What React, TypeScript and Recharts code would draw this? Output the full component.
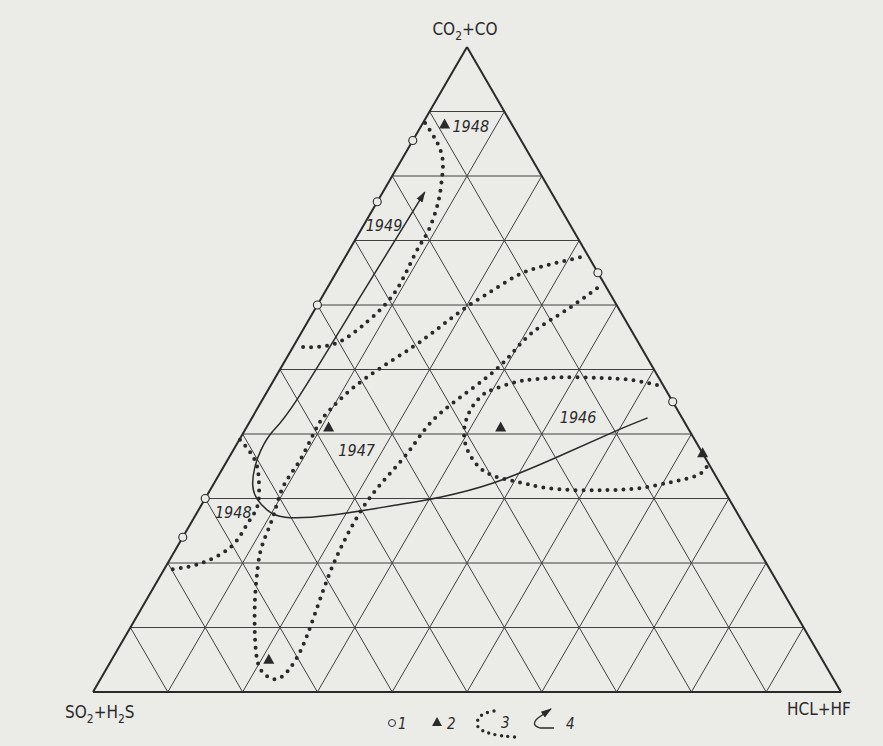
import { ComposedChart, XAxis, YAxis, Line, Scatter, ReferenceLine } from "recharts";

// every composition is in percent: [CO2+CO, SO2+H2S, HCl+HF]
type Comp = [number, number, number];

const GRID_STEPS = [10, 20, 30, 40, 50, 60, 70, 80, 90];

const VERTICES: Comp[] = [
  [100, 0, 0],
  [0, 100, 0],
  [0, 0, 100],
];
const VERTEX_LABELS = ["CO2+CO", "SO2+H2S", "HCL+HF"];

// 1 - open circles
const OPEN_CIRCLES: Comp[] = [
  [85.5, 14.5, 0],
  [76, 24, 0],
  [60, 40, 0],
  [30, 70, 0],
  [24, 76, 0],
  [65, 0, 35],
  [45, 0, 55],
];

// 2 - triangles
const TRIANGLES: Comp[] = [
  [88, 9, 3],
  [41, 48, 11],
  [41, 25, 34],
  [37, 0, 63],
  [5, 74, 21],
];

// 3 - dotted fields
const FIELD_1948_TOP: Comp[] = [
  [88.2, 11.5, 0.3], [85.1, 11.4, 3.5], [82.5, 12.0, 5.5], [80.2, 13.2, 6.6],
  [77.4, 14.9, 7.7], [74.7, 16.8, 8.5], [71.2, 19.7, 9.1], [67.8, 23.1, 9.1],
  [62.3, 28.3, 9.4], [58.1, 33.6, 8.3], [55.7, 37.3, 7.0], [54.1, 40.4, 5.5],
  [53.5, 43.3, 3.2], [53.5, 45.9, 0.6],
];

const FIELD_1947: Comp[] = [
  [67.4, 1.2, 31.4], [66.1, 6.5, 27.4], [64.8, 10.5, 24.7], [62.5, 15.0, 22.5],
  [59.7, 20.2, 20.1], [56.6, 25.3, 18.1], [53.5, 30.5, 16.0], [50.2, 36.5, 13.3],
  [46.8, 42.2, 11.0], [43.7, 46.5, 9.8], [41.1, 49.5, 9.4], [36.0, 54.3, 9.7],
  [31.8, 58.7, 9.5], [27.1, 62.4, 10.5], [22.5, 66.2, 11.3], [18.5, 68.8, 12.7],
  [14.3, 71.2, 14.5], [8.5, 74.1, 17.4], [4.5, 75.7, 19.8], [2.8, 75.7, 21.5],
  [2.0, 74.9, 23.1], [2.6, 73.2, 24.2], [5.4, 70.0, 24.6], [10.1, 65.9, 24.0],
  [17.4, 60.0, 22.6], [23.1, 55.0, 21.9], [28.7, 49.5, 21.8], [33.3, 44.1, 22.6],
  [37.5, 38.9, 23.6], [42.2, 33.4, 24.4], [46.8, 26.2, 27.0], [51.0, 19.7, 29.3],
  [55.4, 13.9, 30.7], [58.9, 7.7, 33.4], [62.6, 1.3, 36.1],
];

const FIELD_1948_LOW: Comp[] = [
  [39.1, 60.8, 0.1], [37.2, 60.4, 2.4], [34.9, 60.6, 4.5], [31.8, 61.9, 6.3],
  [28.7, 63.7, 7.6], [26.2, 66.2, 7.6], [23.6, 69.0, 7.5], [21.6, 71.9, 6.6],
  [20.2, 74.9, 4.9], [19.4, 77.6, 3.0], [18.9, 80.9, 0.2],
];

const FIELD_1946: Comp[] = [
  [47.6, 0.8, 51.6], [48.4, 4.0, 47.6], [48.7, 7.9, 43.4], [48.8, 12.8, 38.4],
  [48.5, 16.7, 34.8], [48.1, 19.3, 32.6], [47.1, 22.5, 30.4], [46.1, 24.8, 29.1],
  [44.2, 27.2, 28.6], [42.2, 29.0, 28.8], [40.2, 30.3, 29.5], [38.0, 31.1, 30.9],
  [36.0, 31.2, 32.8], [34.4, 30.7, 34.9], [33.3, 29.3, 37.4], [32.6, 27.0, 40.4],
  [31.8, 24.3, 43.9], [31.3, 20.2, 48.5], [31.3, 15.6, 53.1], [31.6, 11.1, 57.3],
  [32.6, 6.2, 61.2], [33.6, 2.4, 64.0], [34.9, 0.5, 64.6],
];

// 4 - direction of change 1946 -> 1949
const TREND: Comp[] = [
  [42.5, 4.6, 52.9], [40.3, 10.3, 49.4], [36.4, 19.8, 43.8], [32.4, 30.3, 37.3],
  [30.2, 38.5, 31.3], [29.0, 44.9, 26.1], [27.4, 54.6, 18.0], [27.1, 60.8, 12.1],
  [28.2, 62.6, 9.2], [29.9, 63.1, 7.0], [32.1, 62.6, 5.3], [34.9, 60.9, 4.2],
  [37.5, 58.8, 3.7], [40.3, 55.9, 3.8], [45.3, 50.1, 4.6], [61.4, 33.5, 5.1],
  [77.5, 16.9, 5.6],
];

const YEARS = ["1948", "1949", "1947", "1946", "1948"];
const YEAR_POS: Comp[] = [
  [87.6, 5.7, 6.7],
  [72.4, 24.9, 2.7],
  [37.5, 46.0, 16.5],
  [42.5, 13.9, 43.6],
  [27.9, 67.3, 4.8],
];

const PAPER = "#ebebe8";
const INK = "#2a2a2a";
const FONT = "'DejaVu Sans Condensed', 'Liberation Sans Narrow', 'DejaVu Sans', sans-serif";

// ternary -> plot coords (x: 0..100 along base, y: 0..100 height)
const toXY = ([a, b, c]: Comp) => {
  const s = a + b + c;
  const A = (a / s) * 100;
  const C = (c / s) * 100;
  return { x: C + A / 2, y: A };
};

const seg = (p: Comp, q: Comp) => [toXY(p), toXY(q)];

const gridSegs = GRID_STEPS.flatMap((k) => [
  seg([k, 100 - k, 0], [k, 0, 100 - k]),
  seg([0, 100 - k, k], [100 - k, 0, k]),
  seg([0, k, 100 - k], [100 - k, k, 0]),
]);
const edgeSegs = [
  seg(VERTICES[0], VERTICES[1]),
  seg(VERTICES[1], VERTICES[2]),
  seg(VERTICES[2], VERTICES[0]),
];

const dottedFields = [FIELD_1948_TOP, FIELD_1947, FIELD_1948_LOW, FIELD_1946].map((f) => f.map(toXY));
const trendData = TREND.map(toXY);
const circleData = OPEN_CIRCLES.map(toXY);
const triangleData = TRIANGLES.map(toXY);
const yearData = YEARS.map((text, i) => ({ ...toXY(YEAR_POS[i]), text }));
const vertexData = VERTEX_LABELS.map((text, i) => ({ ...toXY(VERTICES[i]), text, i }));

// label placement relative to each corner
const VERTEX_OFFSET = [
  { dx: -2, dy: -12, anchor: "middle" },
  { dx: -28, dy: 26, anchor: "start" },
  { dx: -54, dy: 23, anchor: "start" },
];

const Formula = ({ x, y, text, anchor }: any) => {
  const parts: string[] = text.match(/\d+|\D+/g) || [];
  return (
    <text x={x} y={y} textAnchor={anchor} fontSize={17} fill={INK} fontFamily={FONT} fontStretch="condensed">
      {parts.map((p, i) =>
        /\d/.test(p) ? (
          <tspan key={i} dy={5} fontSize={12}>{p}</tspan>
        ) : (
          <tspan key={i} dy={i === 0 ? 0 : -5}>{p}</tspan>
        )
      )}
    </text>
  );
};

const OpenCircle = (p: any) => (
  <circle cx={p.cx} cy={p.cy} r={4} fill={PAPER} stroke={INK} strokeWidth={1.1} />
);

const Tri = (p: any) => (
  <path d={`M${p.cx},${p.cy - 6} L${p.cx + 5.5},${p.cy + 4} L${p.cx - 5.5},${p.cy + 4} Z`} fill={INK} />
);

const YearLabel = (p: any) => (
  <text
    x={p.cx}
    y={p.cy}
    textAnchor="middle"
    dominantBaseline="central"
    fontStyle="italic"
    fontSize={16}
    fontFamily={FONT}
    fill={INK}
  >
    {p.payload.text}
  </text>
);

const VertexLabel = (p: any) => {
  const o = VERTEX_OFFSET[p.payload.i];
  return <Formula x={p.cx + o.dx} y={p.cy + o.dy} text={p.payload.text} anchor={o.anchor} />;
};

const LegendRow = () => (
  <svg width={260} height={46} style={{ position: "absolute", left: 370, top: 700 }}>
    <g fontFamily={FONT} fontStyle="italic" fontSize={15} fill={INK}>
      <circle cx={22} cy={23} r={3.5} fill={PAPER} stroke={INK} strokeWidth={1} />
      <text x={28} y={29}>1</text>
      <path d="M67,17 L72,26 L62,26 Z" fill={INK} />
      <text x={77} y={29}>2</text>
      <path
        d="M124,11 Q104,14 108,27 Q114,35 145,37"
        fill="none"
        stroke={INK}
        strokeWidth={3.4}
        strokeLinecap="round"
        strokeDasharray="0 6.5"
      />
      <text x={131} y={28}>3</text>
      <path d="M184,28 L170,28 Q160,25 168,18 L181,9" fill="none" stroke={INK} strokeWidth={1.3} markerEnd="url(#arrowhead)" />
      <text x={196} y={29}>4</text>
    </g>
  </svg>
);

export default function App() {
  return (
    <div style={{ position: "absolute", left: 0, top: 0, width: 883, height: 746, background: PAPER }}>
      <svg width={0} height={0} style={{ position: "absolute" }}>
        <defs>
          <marker
            id="arrowhead"
            viewBox="0 0 10 10"
            refX={9}
            refY={5}
            markerWidth={11}
            markerHeight={11}
            markerUnits="userSpaceOnUse"
            orient="auto"
          >
            <path d="M0,1.8 L10,5 L0,8.2 Z" fill={INK} />
          </marker>
        </defs>
      </svg>
      <ComposedChart width={883} height={746} margin={{ top: 47, left: 93, right: 42, bottom: 54 }}>
        <XAxis type="number" dataKey="x" domain={[0, 100]} hide />
        <YAxis type="number" dataKey="y" domain={[0, 100]} hide />
        {gridSegs.map((s, i) => (
          <ReferenceLine key={`g-${i}`} segment={s} stroke="#404040" strokeWidth={1} ifOverflow="visible" />
        ))}
        {edgeSegs.map((s, i) => (
          <ReferenceLine key={`e-${i}`} segment={s} stroke={INK} strokeWidth={2} ifOverflow="visible" />
        ))}
        {dottedFields.map((d, i) => (
          <Line
            key={`f-${i}`}
            data={d}
            dataKey="y"
            type="natural"
            stroke={INK}
            strokeWidth={4}
            strokeLinecap="round"
            strokeDasharray="0 8"
            dot={false}
            activeDot={false}
            isAnimationActive={false}
          />
        ))}
        <Line
          data={trendData}
          dataKey="y"
          type="natural"
          stroke={INK}
          strokeWidth={1.5}
          dot={false}
          activeDot={false}
          markerEnd="url(#arrowhead)"
          isAnimationActive={false}
        />
        <Scatter data={circleData} shape={OpenCircle} isAnimationActive={false} />
        <Scatter data={triangleData} shape={Tri} isAnimationActive={false} />
        <Scatter data={yearData} shape={YearLabel} isAnimationActive={false} />
        <Scatter data={vertexData} shape={VertexLabel} isAnimationActive={false} />
      </ComposedChart>
      <LegendRow />
    </div>
  );
}
